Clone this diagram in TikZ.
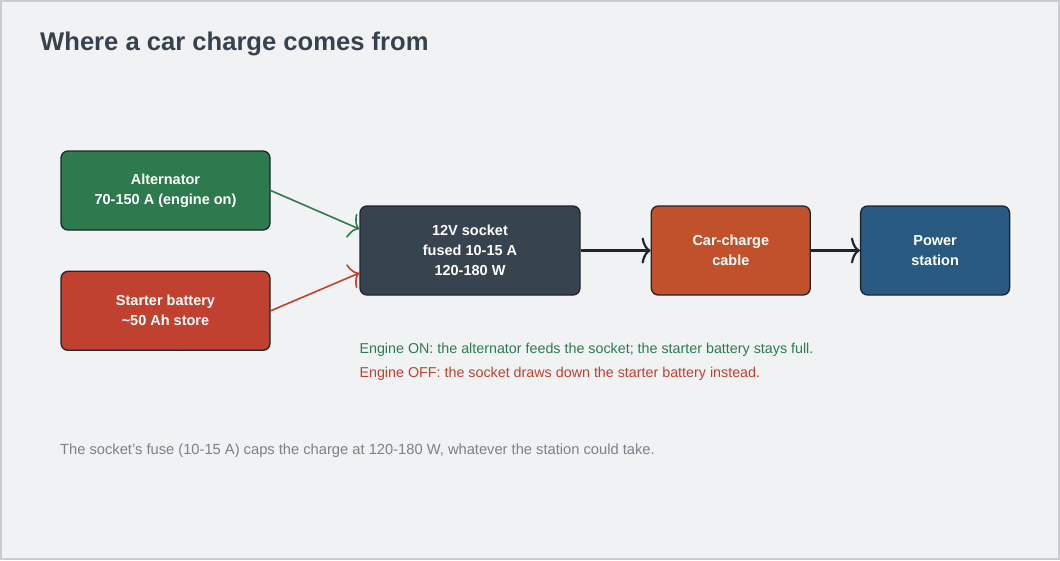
\documentclass[tikz,border=0pt]{standalone}
\usepackage{fontspec}
\setmainfont{Liberation Sans}
\usepackage{xcolor}
\usetikzlibrary{positioning}
\usetikzlibrary{arrows.meta}
\usetikzlibrary{calc}

\definecolor{pagebg}{HTML}{F0F2F4}
\definecolor{pageframe}{HTML}{C8CCD0}
\definecolor{inkdark}{HTML}{37424F}
\definecolor{boxline}{HTML}{1F252C}
\definecolor{altgreen}{HTML}{2E7A4F}
\definecolor{batred}{HTML}{C0412F}
\definecolor{socketgray}{HTML}{37434F}
\definecolor{cableorange}{HTML}{C1512A}
\definecolor{stationblue}{HTML}{285A82}
\definecolor{notegray}{HTML}{7B8189}

\tikzset{
  block/.style={draw=boxline, line width=1.3pt, rounded corners=7pt,
    text=white, align=center,
    font={\fontsize{14.5}{20}\selectfont\bfseries}},
  feed/.style={line width=1.6pt, -{To[length=9pt,width=26pt]}},
  note/.style={font={\fontsize{14.3}{16}\selectfont}}
}

\begin{document}
\begin{tikzpicture}[x=1pt,y=1pt]
\useasboundingbox (0,0) rectangle (1060,-560);
\draw[pageframe, fill=pagebg, line width=1.5pt] (1,-1) rectangle (1059,-559);

% Title
\node[anchor=base west, text=inkdark, inner sep=0pt,
    font={\fontsize{25.6}{30}\selectfont\bfseries}] (title) at (40,-50)
    {Where a car charge comes from};

% Sources
\node[block, fill=altgreen,
    minimum width=209pt,
    minimum height=79pt
] (alternator) at (165.5,-190.5) {Alternator\\70-150 A (engine on)};
\node[block, fill=batred,
    minimum width=209pt,
    minimum height=79pt,
    below=40pt of alternator
] (battery) {Starter battery\\\textasciitilde50 Ah store};

% Socket
\node[block, fill=socketgray,
    minimum width=220pt,
    minimum height=89pt
] (socket) at (470,-250.5) {12V socket\\fused 10-15 A\\120-180 W};

% Cable
\node[block, fill=cableorange,
    minimum width=159pt,
    minimum height=89pt,
    right=70pt of socket
] (cable) {Car-charge\\cable};

% Power station
\node[block, fill=stationblue,
    minimum width=149pt,
    minimum height=89pt,
    right=49pt of cable
] (station) {Power\\station};

% Arrows
\draw[feed, altgreen] (alternator.east) -- ($(socket.west)+(0,21.5)$);
\draw[feed, batred] (battery.east) -- ($(socket.west)+(0,-22.5)$);
\draw[feed, boxline, line width=2.2pt] (socket.east) -- (cable.west);
\draw[feed, boxline, line width=2.2pt] (cable.east) -- (station.west);

% Notes
\node[note, anchor=base west, text=altgreen, inner sep=0pt] (onnote)
    at ($(socket.south west)+(0,-58)$)
    {Engine ON: the alternator feeds the socket; the starter battery stays full.};
\node[note, anchor=base west, text=batred, inner sep=0pt] (offnote)
    at ($(onnote.base west)+(0,-24)$)
    {Engine OFF: the socket draws down the starter battery instead.};

\node[anchor=base west, text=notegray, inner sep=0pt,
    font={\fontsize{14.7}{17}\selectfont}] (footer) at (60,-454)
    {The socket's fuse (10-15 A) caps the charge at 120-180 W, whatever the station could take.};
\end{tikzpicture}
\end{document}
